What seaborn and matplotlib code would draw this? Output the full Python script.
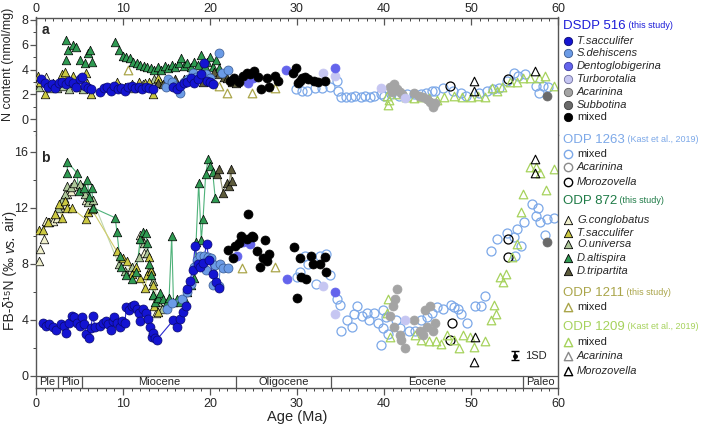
import numpy as np
import pandas as pd
import seaborn as sns
import matplotlib.pyplot as plt
from matplotlib.ticker import MultipleLocator

sns.set_style("ticks")
plt.rcParams['font.family'] = ['Liberation Sans', 'DejaVu Sans']

# ---------------- data (age Ma, value) ----------------
# DSDP 516
tsac516_a = [(0.6,3.2),(1.0,2.9),(1.4,2.6),(1.8,2.8),(2.2,2.5),(2.6,2.9),(3.0,3.0),(3.4,2.8),(3.8,3.1),(4.2,2.9),
             (4.6,2.6),(5.0,3.2),(5.3,3.4),(5.6,2.7),(6.0,2.5),(6.3,2.4),(7.4,2.2),(7.8,2.5),(8.2,2.6),(8.6,2.3),
             (9.0,2.7),(9.4,2.4),(9.8,2.5),(10.2,2.3),(10.6,2.6),(11.0,2.7),(11.4,2.5),(11.8,2.6),(12.2,2.4),(12.6,2.6),
             (13.0,2.5),(13.4,2.4),(15.8,2.6),(16.2,2.4),(16.6,2.7),(17.0,2.9),(17.4,3.0),(17.8,3.3),(18.2,2.9),(18.6,3.2),
             (19.0,3.6),(19.3,4.5),(19.6,3.1),(20.0,3.0),(20.4,2.8)]
tsac516_b = [(0.8,3.8),(1.2,3.6),(1.5,3.7),(1.9,3.5),(2.3,3.3),(2.9,3.7),(3.2,3.6),(3.5,3.1),(3.8,3.8),(4.1,4.3),
             (4.4,4.2),(4.7,3.8),(5.0,3.6),(5.3,4.2),(5.5,3.7),(5.8,3.0),(6.1,2.7),(6.3,3.4),(6.5,4.3),(6.8,3.5),
             (7.3,3.6),(7.7,3.8),(8.0,3.9),(8.3,3.7),(8.6,3.3),(8.8,3.9),(9.0,4.2),(9.3,3.8),(9.6,3.5),(9.9,3.9),
             (10.2,3.8),(10.4,4.9),(10.7,4.7),(11.0,5.0),(11.3,5.1),(11.6,4.8),(11.8,4.5),(12.0,3.9),(12.3,4.8),(12.6,4.5),
             (12.9,4.1),(13.1,3.5),(13.3,2.8),(13.5,3.1),(13.7,2.7),(13.9,2.6),(15.8,4.0),(16.2,3.5),(16.5,4.1),(16.9,4.6),
             (17.2,5.0),(17.4,6.2),(17.7,6.8),(18.0,7.6),(18.3,9.3),(18.6,8.0),(18.9,7.8),(19.2,8.1),(19.6,9.4),(19.9,8.3),
             (20.3,7.3),(20.7,6.7),(21.0,6.3)]
sdeh_a = [(14.9,2.55),(15.2,3.2),(15.6,3.0),(16.0,2.7),(16.6,2.1),(17.0,3.0),(17.5,3.2),(18.0,3.7),(18.4,3.4),
          (19.5,3.6),(20.0,3.3),(21.0,5.35),(21.4,3.7),(22.1,4.0)]
sdeh_b = [(15.1,4.8),(15.6,5.2),(16.8,5.5),(17.4,6.0),(17.8,6.6),(18.2,7.8),(18.5,8.3),(18.8,8.6),(19.0,8.0),
          (19.3,8.6),(19.5,7.6),(19.8,8.5),(20.1,8.4),(20.4,6.5),(20.6,7.9),(21.0,6.4),(21.2,8.0),(21.5,7.7),(22.1,7.7)]
dent_a = [(24.4,2.9),(24.9,3.3),(28.7,4.0),(34.4,4.1)]
dent_b = [(23.1,8.6),(23.8,9.6),(24.6,9.4),(28.8,6.9),(34.4,6.0)]
turb_a = [(33.0,3.7),(34.4,3.5),(39.7,2.5),(42.4,1.7)]
turb_b = [(33.0,6.4),(34.4,4.4),(42.4,4.0)]
acar516_a = [(40.7,2.55),(40.9,2.2),(41.2,2.8),(41.5,2.4),(41.8,2.2),(42.1,2.0),(43.4,2.1),(44.0,1.9),(44.5,1.8),
             (44.9,1.6),(45.3,1.4),(45.6,0.95),(45.9,1.3)]
acar516_b = [(40.7,4.3),(41.0,5.0),(41.1,3.5),(41.3,5.5),(41.5,6.2),(41.8,2.9),(42.0,2.6),(42.4,2.0),(43.4,4.0),
             (44.1,3.2),(44.5,2.9),(44.7,4.7),(45.0,3.5),(45.3,5.0),(45.6,3.2),(45.9,3.8)]
subb_a = [(58.7,1.85)]
subb_b = [(58.7,9.6)]
mix516_a = [(22.3,3.1),(22.8,3.3),(23.3,3.0),(23.8,3.5),(24.2,3.7),(24.6,3.6),(25.1,3.9),(25.5,3.4),(25.9,2.4),
            (26.5,3.3),(26.8,2.55),(27.5,3.5),(27.8,3.1),(29.5,3.7),(29.9,4.1),(30.1,2.9),(30.3,3.1),(30.6,3.3),
            (30.9,3.4),(31.3,3.2),(31.9,3.1),(32.4,3.0),(33.2,3.1)]
mix516_b = [(22.1,9.0),(22.7,8.4),(22.9,9.3),(23.3,9.5),(23.6,10.0),(24.2,9.8),(24.4,11.6),(24.8,10.0),(25.0,9.9),
            (25.4,8.9),(25.7,7.8),(26.1,8.4),(26.3,9.7),(26.6,8.2),(26.8,8.7),(29.6,9.2),(30.0,5.6),(30.3,8.4),
            (30.5,7.1),(31.0,6.9),(31.6,8.6),(31.8,8.0),(32.6,8.0),(33.2,8.5),(33.3,7.4)]

# ODP 1263 (Kast et al., 2019)
mix1263_a = [(29.9,2.4),(30.6,2.3),(31.2,2.3),(32.1,2.5),(32.9,2.5),(33.8,2.55),(34.6,3.1),(34.7,2.3),(35.0,1.75),
             (35.6,1.75),(36.2,1.8),(36.7,1.9),(37.3,1.8),(37.8,1.9),(38.4,1.8),(38.9,1.9),(39.6,2.0),(40.0,1.9),
             (40.8,2.0),(41.7,1.9),(42.6,2.0),(43.4,2.0),(44.2,2.0),(44.8,2.1),(45.5,2.3),(45.9,2.3),(46.8,2.5),
             (47.9,2.3),(48.9,2.1),(49.4,1.9),(50.9,2.1),(51.8,2.3),(52.5,2.4),(53.2,2.5),(54.1,3.1),(54.9,3.7),
             (55.4,3.5),(56.2,3.6),(57.5,2.7),(57.8,2.1),(58.3,2.7),(58.9,2.6)]
mix1263_b = [(30.0,7.1),(30.3,7.4),(30.9,8.6),(31.3,8.0),(32.2,6.6),(32.6,8.6),(33.3,8.7),(33.8,7.2),(34.6,5.5),
             (34.9,5.1),(35.0,3.2),(35.7,4.0),(36.3,3.5),(36.5,4.4),(36.9,5.0),(37.5,4.3),(38.0,4.5),(38.3,4.0),
             (38.8,4.5),(39.3,3.8),(39.7,2.2),(39.9,4.7),(39.9,3.4),(40.2,4.2),(40.5,3.0),(41.4,4.0),(41.8,3.4),
             (42.9,3.2),(43.6,3.2),(44.3,4.0),(44.9,4.2),(45.5,4.5),(46.1,4.9),(46.8,4.8),(47.7,5.1),(48.1,4.9),
             (48.5,4.8),(48.9,4.4),(49.5,3.8),(50.5,5.0),(51.2,5.0),(51.6,5.7),(52.3,8.9),(53.0,9.8),(54.1,10.2),
             (54.9,9.9),(55.1,8.6),(55.3,10.5),(55.8,9.3),(56.1,11.0),(57.0,12.3),(57.5,11.4),(57.7,12.0),(57.9,11.0),
             (58.5,10.1),(58.7,11.2),(59.5,11.3)]
moro1263_a = [(47.6,2.7),(54.3,3.2)]
moro1263_b = [(47.8,3.8),(47.6,2.6),(54.2,9.8),(54.3,8.5)]

# ODP 872
gcong_a = [(0.2,3.0),(1.1,3.4),(2.0,2.9),(2.8,3.1),(4.5,2.9),(6.0,2.6),(10.2,2.6),(12.3,2.8),(14.0,3.0)]
gcong_b = [(0.3,8.2),(0.5,9.1),(0.9,9.8),(1.1,11.1),(1.5,11.0),(2.0,11.1),(2.4,11.3),(2.8,12.2),(3.2,12.7),
           (3.6,13.0),(4.0,13.2),(4.3,13.6),(5.3,13.5),(5.8,12.6),(6.2,12.5),(12.0,10.1),(12.4,8.8),(13.0,7.5),
           (13.4,5.8),(13.8,4.5),(14.2,5.0)]
ouniv_a = [(0.4,2.6),(1.5,2.5),(2.4,2.5),(3.1,2.7),(3.8,2.4),(4.8,2.6),(5.4,2.4),(6.2,2.5),(9.6,2.6),(11.2,2.5),
           (12.7,2.7),(13.6,3.2),(14.3,3.0)]
ouniv_b = [(2.5,12.0),(3.0,12.6),(3.3,13.0),(3.6,13.6),(4.0,13.5),(4.4,13.8),(5.0,13.7),(5.6,13.0),(6.0,12.4),
           (6.5,12.6),(9.5,8.0),(10.2,7.5),(11.0,7.8),(11.8,8.5),(12.1,9.8),(12.4,9.5),(12.8,8.8),(13.2,7.6),
           (13.5,6.8),(14.0,5.3),(14.5,4.8)]
tsac872_a = [(0.2,3.5),(0.5,3.0),(1.0,2.0),(3.0,3.6),(3.3,3.8),(4.2,3.5),(5.7,3.7),(5.9,2.9),(6.3,2.0),(9.3,3.0),
             (11.0,2.8),(11.8,3.0),(12.5,2.9),(13.0,3.0),(13.5,2.0),(14.0,3.3)]
tsac872_b = [(0.3,10.4),(0.8,10.4),(1.4,11.0),(2.2,11.6),(2.6,12.3),(3.0,11.3),(3.3,12.5),(3.6,12.0),(4.1,12.0),
             (5.7,11.2),(6.0,11.7),(6.4,11.9),(9.3,8.9),(10.0,8.4),(10.5,8.2),(11.0,7.3),(11.5,7.8),(12.0,7.0),
             (12.5,6.3),(12.8,7.2),(13.0,8.5),(13.2,7.5),(13.5,6.5),(13.6,5.0),(14.0,4.6)]
dalt_a = [(3.5,6.4),(3.7,5.6),(3.5,4.8),(4.3,6.0),(4.6,5.8),(5.1,4.8),(5.6,4.5),(6.0,5.3),(6.2,5.6),(6.4,4.6),
          (9.1,6.2),(9.5,5.6),(10.0,5.1),(10.4,5.0),(10.8,4.9),(11.2,4.6),(11.6,4.5),(12.0,4.4),(12.4,4.3),(12.8,4.2),
          (13.2,4.1),(13.6,4.0),(14.0,4.2),(14.4,4.0),(14.8,4.3),(15.2,4.1),(15.6,4.4),(16.0,4.2),(16.4,4.5),(16.7,4.9),
          (17.0,4.3),(17.4,4.5),(17.8,4.2),(18.2,4.6),(18.6,4.4),(19.0,5.2),(19.4,4.3),(19.7,4.6),(20.0,5.0),(20.4,4.2),
          (20.7,4.8),(21.0,4.1)]
dalt_b = [(3.6,15.3),(3.6,14.5),(4.7,14.5),(4.9,13.2),(5.5,13.4),(5.9,14.0),(6.1,12.8),(6.4,13.4),(6.6,12.0),
          (9.1,11.3),(9.3,10.3),(9.6,8.6),(9.8,7.8),(10.3,7.2),(11.0,6.9),(11.5,7.4),(12.0,9.8),(12.3,10.3),
          (12.6,10.2),(12.8,9.5),(13.0,8.0),(13.2,7.2),(13.5,5.8),(13.7,5.3),(14.0,5.6),(14.3,5.9),(14.6,5.5),
          (15.0,5.3),(15.3,5.6),(15.6,10.0),(15.8,5.3),(16.2,5.5),(16.6,5.3),(17.0,5.6),(17.4,6.0),(17.8,6.5),
          (18.2,7.0),(18.4,9.6),(18.7,13.8),(19.0,9.7),(19.2,11.2),(19.5,14.4),(19.8,15.5),(20.0,15.0),(20.3,14.6),
          (20.6,12.7)]
dtrip_a = [(14.0,2.9),(14.6,2.8),(15.2,3.0),(16.0,3.2),(17.0,3.2),(18.0,3.5),(18.6,3.4),(19.2,3.0),(19.8,3.3),
           (20.5,3.8),(21.0,3.6),(21.6,3.4),(22.0,3.3),(22.5,3.0),(23.0,2.9)]
dtrip_b = [(20.8,14.4),(21.0,14.8),(21.5,13.1),(21.9,13.8),(22.2,13.6),(22.4,14.8),(22.5,13.9)]

# ODP 1211
mix1211_a = [(10.6,3.95),(21.0,2.7),(21.9,2.1),(24.8,2.1),(27.5,2.5)]
mix1211_b = [(23.7,7.7),(27.5,7.8)]

# ODP 1209 (Kast et al., 2019)
mix1209_a = [(40.5,1.1),(40.6,1.5),(40.4,1.9),(41.5,2.0),(42.5,1.8),(43.4,1.7),(44.2,1.8),(45.2,1.7),(46.1,1.5),
             (46.9,1.8),(48.0,1.9),(49.0,1.8),(50.0,1.8),(50.8,1.9),(51.6,1.8),(52.4,2.5),(53.0,2.3),(53.6,2.6),
             (54.5,3.0),(55.3,3.0),(56.0,3.3),(56.8,3.3),(57.8,3.3),(58.5,3.5),(59.5,2.7)]
mix1209_b = [(40.3,4.5),(40.5,5.5),(40.7,2.8),(43.6,2.9),(44.3,2.6),(45.2,2.5),(46.0,2.5),(46.5,2.3),(47.2,2.9),
             (48.0,2.6),(48.6,2.0),(49.1,2.9),(49.9,2.8),(50.4,2.1),(51.6,2.5),(52.3,4.0),(52.6,5.1),(52.9,4.4),
             (53.3,7.1),(53.7,6.7),(54.0,7.3),(54.7,8.5),(55.3,9.4),(55.7,11.7),(56.0,13.0),(56.8,14.9),(57.5,14.9),
             (57.9,14.5),(58.6,13.3),(59.5,14.8)]
moro1209_a = [(50.4,3.1),(50.4,2.3),(57.4,3.9)]
moro1209_b = [(50.5,2.8),(50.4,1.0),(57.4,15.5),(57.4,14.5)]

# epochs
epoch_names = ["Ple", "Plio", "Miocene", "Oligocene", "Eocene", "Paleo"]
epoch_edges = [0, 2.58, 5.33, 23.03, 33.9, 56.0, 60]

# colours
c_tsac516 = "#1414d2"
c_sdeh = "#6b9be6"
c_dent = "#6464ec"
c_turb = "#c6c6f2"
c_acar = "#a4a4a4"
c_subb = "#6a6a6a"
c_1263 = "#7ca8e8"
c_gcong = "#efefcc"
c_tsac872 = "#cbc842"
c_ouniv = "#aec89a"
c_dalt = "#2f9a52"
c_dtrip = "#5d5b3b"
c_1211 = "#aaa54a"
c_1209 = "#a6d25c"
clear = (0, 0, 0, 0)


def pts(ax, data, marker, face, edge="black", s=42, lw=0.5, z=3, line=None):
    df = pd.DataFrame(data, columns=["age", "val"])
    if line is not None:
        sns.lineplot(data=df, x="age", y="val", ax=ax, color=line, lw=0.8,
                     estimator=None, sort=True, zorder=z - 0.5, legend=False)
    sns.scatterplot(data=df, x="age", y="val", ax=ax, marker=marker, color=face,
                    edgecolor=edge, s=s, linewidth=lw, zorder=z, legend=False)


fig = plt.figure(figsize=(7.06, 4.26), dpi=100)
ax_a = fig.add_axes([36/706, 1 - 135/426, 522/706, 117.5/426])
ax_b = fig.add_axes([36/706, 1 - 388/426, 522/706, 253/426])

for ax, sfx in [(ax_a, "a"), (ax_b, "b")]:
    d = globals()
    pts(ax, d["mix1263_" + sfx], "o", clear, c_1263, lw=0.9, z=2)
    pts(ax, d["moro1263_" + sfx], "o", clear, "black", lw=0.9, z=2)
    pts(ax, d["mix1209_" + sfx], "^", clear, c_1209, s=38, lw=0.9, z=2)
    pts(ax, d["moro1209_" + sfx], "^", clear, "black", s=38, lw=0.8, z=2)
    pts(ax, d["mix1211_" + sfx], "^", clear, c_1211, s=38, lw=0.9, z=2)
    ln = sfx == "b"
    pts(ax, d["gcong_" + sfx], "^", c_gcong, s=38, z=3)
    pts(ax, d["ouniv_" + sfx], "^", c_ouniv, s=38, z=3.1, line="#c0d6ae" if ln else None)
    pts(ax, d["tsac872_" + sfx], "^", c_tsac872, s=38, z=3.2, line="#cfcc6a" if ln else None)
    pts(ax, d["dalt_" + sfx], "^", c_dalt, s=38, z=3.3, line="#4fb27a" if ln else None)
    pts(ax, d["dtrip_" + sfx], "^", c_dtrip, s=38, z=3.3, line="#8a8a6a" if ln else None)
    pts(ax, d["acar516_" + sfx], "o", c_acar, edge=c_acar, z=4)
    pts(ax, d["subb_" + sfx], "o", c_subb, edge=c_subb, z=4)
    pts(ax, d["turb_" + sfx], "o", c_turb, edge=c_turb, z=4)
    pts(ax, d["dent_" + sfx], "o", c_dent, edge=c_dent, z=4)
    pts(ax, d["mix516_" + sfx], "o", "black", z=4)
    pts(ax, d["sdeh_" + sfx], "o", c_sdeh, edge="#3a5a90", z=4.2, line=c_sdeh if ln else None)
    pts(ax, d["tsac516_" + sfx], "o", c_tsac516, edge="#0a0a70", z=4.4, line="#2a2ad0" if ln else None)

# axes cosmetics
spine_c = "#555555"
for ax in (ax_a, ax_b):
    ax.set_xlim(0, 60)
    ax.set_xlabel("")
    ax.set_ylabel("")
    for sp in ax.spines.values():
        sp.set_color(spine_c)
        sp.set_linewidth(1.0)
    ax.tick_params(labelsize=9, color=spine_c, width=0.9)
    ax.xaxis.set_major_locator(MultipleLocator(10))
    ax.xaxis.set_minor_locator(MultipleLocator(1))

ax_a.set_ylim(-1.29, 8.2)
ax_a.spines["bottom"].set_visible(False)
ax_a.xaxis.tick_top()
ax_a.tick_params(axis="x", which="both", direction="in", top=True, bottom=False,
                 labeltop=True, labelbottom=False, pad=2)
ax_a.tick_params(axis="x", which="major", length=5)
ax_a.tick_params(axis="x", which="minor", length=2.5)
ax_a.set_yticks([0, 2, 4, 6, 8])
ax_a.yaxis.set_minor_locator(MultipleLocator(1))
ax_a.tick_params(axis="y", which="major", length=4, pad=1.5)
ax_a.tick_params(axis="y", which="minor", length=2)

ax_b.set_ylim(-0.857, 17.21)
ax_b.spines["top"].set_visible(False)
ax_b.set_yticks([0, 4, 8, 12, 16])
ax_b.yaxis.set_minor_locator(MultipleLocator(2))
ax_b.tick_params(axis="y", which="major", length=4, pad=1.5)
ax_b.tick_params(axis="y", which="minor", length=2)
ax_b.tick_params(axis="x", which="major", length=5, pad=2)
ax_b.tick_params(axis="x", which="minor", length=2.5)

# epoch bar
ax_b.axhline(0, color=spine_c, lw=0.9, zorder=1)
for e in epoch_edges[1:-1]:
    ax_b.plot([e, e], [-0.857, 0], color=spine_c, lw=0.9)
for nm, lo, hi in zip(epoch_names, epoch_edges[:-1], epoch_edges[1:]):
    ax_b.text((lo + hi) / 2, -0.42, nm, ha="center", va="center", fontsize=8)

# panel letters and 1SD bar
ax_a.text(0.6, 7.2, "a", fontsize=10, fontweight="bold", va="center")
ax_b.text(0.6, 15.6, "b", fontsize=10, fontweight="bold", va="center")
ax_b.errorbar([55.0], [1.45], yerr=[0.3], fmt="o", ms=2.5, color="black", capsize=3, lw=1.2)
ax_b.text(56.2, 1.45, "1SD", fontsize=8, va="center")

fig.text(8/706, 1 - 64/426, "N content (nmol/mg)", rotation=90, ha="center", va="center", fontsize=9)
# FB-d15N label built from three rotated pieces so "vs." can be italic
p1 = fig.text(10/706, 1 - 330/426, "FB-δ¹⁵N (‰ ", rotation=90, ha="center", va="bottom", fontsize=10)
p2 = fig.text(0, 0, "vs.", rotation=90, ha="center", va="bottom", fontsize=10, style="italic")
p2.set_position((0, 0))
p2 = fig.texts.pop()
p2 = plt.annotate("vs.", xy=(0.5, 1), xycoords=p1, rotation=90, ha="center", va="bottom",
                  fontsize=10, style="italic", annotation_clip=False)
plt.annotate(" air)", xy=(0.5, 1), xycoords=p2, rotation=90, ha="center", va="bottom",
             fontsize=10, annotation_clip=False)
fig.text(297/706, 1 - 417/426, "Age (Ma)", ha="center", va="center", fontsize=10.5)

# legend
lg = fig.add_axes([0, 0, 1, 1], facecolor="none")
lg.set_xlim(0, 706)
lg.set_ylim(426, 0)
lg.axis("off")

legend_titles = [("DSDP 516", "(this study)", 26, "#1c1cd8"),
                 ("ODP 1263", "(Kast et al., 2019)", 140, c_1263),
                 ("ODP 872", "(this study)", 201, "#1f7b47"),
                 ("ODP 1211", "(this study)", 293, c_1211),
                 ("ODP 1209", "(Kast et al., 2019)", 327, c_1209)]
legend_rows = [("T.sacculifer", 40.7, "o", c_tsac516, "#0a0a70", True),
               ("S.dehiscens", 52.7, "o", c_sdeh, "#3a5a90", True),
               ("Dentoglobigerina", 66, "o", c_dent, "#3a3aa0", True),
               ("Turborotalia", 79.3, "o", c_turb, "#7070a0", True),
               ("Acarinina", 92.3, "o", c_acar, "#606060", True),
               ("Subbotina", 105.3, "o", c_subb, "#404040", True),
               ("mixed", 117.3, "o", "black", "black", False),
               ("mixed", 154, "o", clear, c_1263, False),
               ("Acarinina", 166.7, "o", clear, "#8a8a8a", True),
               ("Morozovella", 181.7, "o", clear, "black", True),
               ("G.conglobatus", 220, "^", c_gcong, "black", True),
               ("T.sacculifer", 232.7, "^", c_tsac872, "black", True),
               ("O.universa", 244.3, "^", c_ouniv, "black", True),
               ("D.altispira", 258.3, "^", c_dalt, "black", True),
               ("D.tripartita", 271, "^", c_dtrip, "black", True),
               ("mixed", 306.7, "^", clear, c_1211, False),
               ("mixed", 341.7, "^", clear, c_1209, False),
               ("Acarinina", 355.7, "^", clear, "#8a8a8a", True),
               ("Morozovella", 370.7, "^", clear, "black", True)]

for name, sub, y, col in legend_titles:
    t = lg.text(563, y, name, color=col, fontsize=9.5, va="center", ha="left")
    lg.annotate(" " + sub, xy=(1, 0.14), xycoords=t, color=col, fontsize=6.5, va="bottom", ha="left")
for name, y, mk, face, edge, ital in legend_rows:
    lg.scatter([568], [y], marker=mk, color=face, edgecolor=edge, s=36, linewidth=1.0 if face == clear else 0.6)
    lg.text(577, y, name, fontsize=8, va="center", ha="left", style="italic" if ital else "normal")

fig.savefig("out.png", dpi=100)
